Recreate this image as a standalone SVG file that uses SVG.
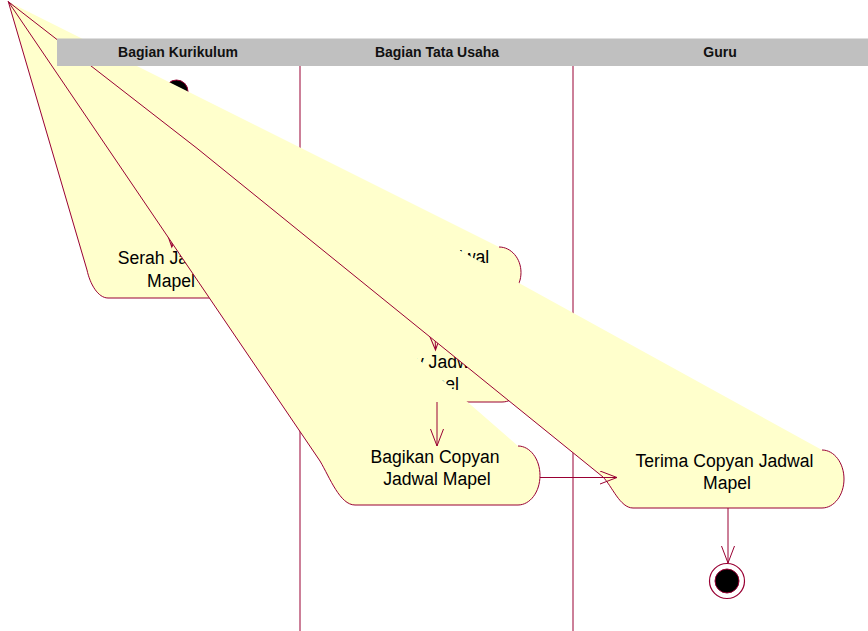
<svg xmlns="http://www.w3.org/2000/svg" xmlns:xlink="http://www.w3.org/1999/xlink" width="868" height="631" viewBox="0 0 868 631">
<style>
.lane{stroke:#990033;stroke-width:1;fill:none}
.af{fill:#FFFFCC;stroke:none}
.as{fill:none;stroke:#990033;stroke-width:1}
.t{font-family:"Liberation Sans",Arial,sans-serif;font-size:17.6px;fill:#000;text-anchor:middle}
.h{font-family:"Liberation Sans",Arial,sans-serif;font-size:14px;font-weight:bold;fill:#111;text-anchor:middle}
.c{fill:none;stroke:#990033;stroke-width:1}
</style>
<defs>
<marker id="ah" markerUnits="userSpaceOnUse" markerWidth="20" markerHeight="16" refX="17" refY="6.5" orient="auto">
<path d="M0,0 L17,6.5 L0,13" fill="none" stroke="#990033" stroke-width="1"/>
</marker>
<path id="f1" d="M8.3,1.7 L87,270 C90,284 98,298 108,298 L234,298 C245.6,298 255,286.6 255,272.5 C255,258.4 245.6,247 234,247 Z"/>
<path id="f2" d="M8.3,1.7 L345,272.5 C345,286.6 354.85,298 367,298 L499,298 C511.15,298 521,286.6 521,272.5 C521,258.4 511.15,247 499,247 Z"/>
<path id="f3" d="M8.3,1.7 L346,376 C346,390.4 355.85,402 368,402 L502,402 C514.15,402 524,390.4 524,376 C524,361.6 514.15,350 502,350 Z"/>
<path id="f4" d="M8.3,1.7 L320,461 C330,478 340,505 355,505 L518,505 C530.15,505 540,491.8 540,475.5 C540,459.2 530.15,446 518,446 Z"/>
<path id="f5" d="M8.3,1.7 L197,148.3 L603,477 C612,486 620,508 633,508 L822,508 C834.15,508 844,495 844,479 C844,463 834.15,450 822,450 Z"/>
<mask id="m1" maskUnits="userSpaceOnUse" x="0" y="0" width="868" height="631">
<rect width="868" height="631" fill="#fff"/>
<use xlink:href="#f2" href="#f2" fill="#000"/><use xlink:href="#f3" href="#f3" fill="#000"/><use xlink:href="#f4" href="#f4" fill="#000"/><use xlink:href="#f5" href="#f5" fill="#000"/>
</mask>
<mask id="m2" maskUnits="userSpaceOnUse" x="0" y="0" width="868" height="631">
<rect width="868" height="631" fill="#fff"/>
<use xlink:href="#f3" href="#f3" fill="#000"/><use xlink:href="#f4" href="#f4" fill="#000"/><use xlink:href="#f5" href="#f5" fill="#000"/>
</mask>
<mask id="m3" maskUnits="userSpaceOnUse" x="0" y="0" width="868" height="631">
<rect width="868" height="631" fill="#fff"/>
<use xlink:href="#f4" href="#f4" fill="#000"/><use xlink:href="#f5" href="#f5" fill="#000"/>
</mask>
<mask id="m4" maskUnits="userSpaceOnUse" x="0" y="0" width="868" height="631">
<rect width="868" height="631" fill="#fff"/>
<use xlink:href="#f5" href="#f5" fill="#000"/>
</mask>
</defs>
<rect width="868" height="631" fill="#fff"/>
<g id="lanes">
<line class="lane" x1="300" y1="66" x2="300" y2="631"/>
<line class="lane" x1="573" y1="66" x2="573" y2="631"/>
</g>
<g id="start">
<circle cx="176.5" cy="91.5" r="11.5" fill="#000" stroke="#990033" stroke-width="1"/>
</g>
<g id="serah-jadwal-mapel">
<use xlink:href="#f1" href="#f1" class="af"/>
<path class="as" d="M8.3,1.7 L87,270 C90,284 98,298 108,298 L234,298 C245.6,298 255,286.6 255,272.5 C255,258.4 245.6,247 234,247"/>
<text class="t" x="171" y="264">Serah Jadwal</text>
<text class="t" x="171" y="287">Mapel</text>
</g>
<g id="terima-jadwal-mapel">
<use xlink:href="#f2" href="#f2" class="af"/>
<path class="as" d="M8.3,1.7 L345,272.5 C345,286.6 354.85,298 367,298 L499,298 C511.15,298 521,286.6 521,272.5 C521,258.4 511.15,247 499,247"/>
<text class="t" x="433" y="263">Terima Jadwal</text>
<text class="t" x="433" y="285">Mapel</text>
</g>
<g id="copy-jadwal-mapel">
<use xlink:href="#f3" href="#f3" class="af"/>
<path class="as" d="M8.3,1.7 L346,376 C346,390.4 355.85,402 368,402 L502,402 C514.15,402 524,390.4 524,376 C524,361.6 514.15,350 502,350"/>
<text class="t" x="433" y="368">Copy Jadwal</text>
<text class="t" x="435" y="390">Mapel</text>
</g>
<g id="bagikan-copyan">
<use xlink:href="#f4" href="#f4" class="af"/>
<path class="as" d="M8.3,1.7 L320,461 C330,478 340,505 355,505 L518,505 C530.15,505 540,491.8 540,475.5 C540,459.2 530.15,446 518,446"/>
<text class="t" x="435" y="463">Bagikan Copyan</text>
<text class="t" x="437" y="485">Jadwal Mapel</text>
</g>
<g id="terima-copyan">
<use xlink:href="#f5" href="#f5" class="af"/>
<path class="as" d="M8.3,1.7 L197,148.3 L603,477 C612,486 620,508 633,508 L822,508 C834.15,508 844,495 844,479 C844,463 834.15,450 822,450"/>
<text class="t" x="724.5" y="467">Terima Copyan Jadwal</text>
<text class="t" x="727" y="489">Mapel</text>
</g>
<g id="end">
<circle cx="727" cy="581" r="17.5" fill="#fff" stroke="#990033" stroke-width="1.2"/>
<circle cx="727" cy="581" r="12" fill="#000" stroke="#990033" stroke-width="1"/>
</g>
<g id="connectors">
<path class="c" mask="url(#m1)" marker-end="url(#ah)" d="M176.2,103 L171.8,247"/>
<path class="c" mask="url(#m2)" marker-end="url(#ah)" d="M255,272.5 L345,272.5"/>
<path class="c" mask="url(#m3)" marker-end="url(#ah)" d="M434,298 L435.5,350"/>
<path class="c" mask="url(#m4)" marker-end="url(#ah)" d="M437,402 L437,446"/>
<path class="c" marker-end="url(#ah)" d="M540,477.5 L617,477.5"/>
<path class="c" marker-end="url(#ah)" d="M728,508 L728,563"/>
</g>
<g id="header">
<rect x="57" y="38.5" width="811" height="27.5" fill="#C0C0C0"/>
<text class="h" x="178" y="57">Bagian Kurikulum</text>
<text class="h" x="437" y="57">Bagian Tata Usaha</text>
<text class="h" x="720" y="57">Guru</text>
</g>
</svg>
